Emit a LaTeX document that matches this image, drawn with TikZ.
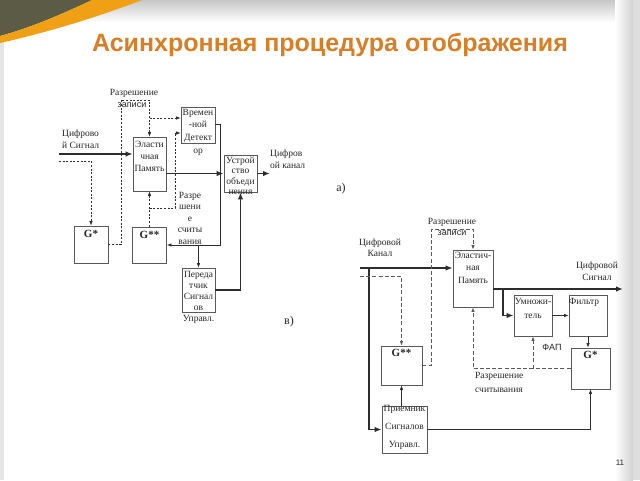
\documentclass[tikz,border=0pt]{standalone}
\usepackage{fontspec}
\setmainfont{Liberation Serif}
\newfontfamily\sansf{Liberation Sans}
\usetikzlibrary{arrows.meta}
\definecolor{ttl}{RGB}{216,126,38}
\definecolor{olv}{RGB}{92,92,70}
\definecolor{org}{RGB}{240,160,20}
\definecolor{ln}{RGB}{45,45,45}
\tikzset{
  box/.style={draw=black!65, line width=0.8pt, fill=white, inner sep=0pt, rectangle},
  lbl/.style={inner sep=0pt, align=center, text=black!85, font=\fontsize{9.5}{12}\selectfont},
  slbl/.style={inner sep=0pt, align=center, text=black!85, font=\sansf\fontsize{9}{11}\selectfont},
  gl/.style={inner sep=0pt, font=\bfseries\fontsize{11}{12}\selectfont, text=black!85},
  thk/.style={draw=ln, line width=1.5pt, -{Latex[length=7pt,width=5.5pt]}},
  tl/.style={draw=ln, line width=0.7pt, -{Latex[length=4.5pt,width=3.5pt]}},
  dl/.style={draw=ln, line width=0.7pt, dash pattern=on 2pt off 1.6pt, -{Latex[length=4.5pt,width=3.5pt]}},
  dr/.style={draw=black!65, line width=0.8pt, dash pattern=on 4pt off 2.2pt, -{Latex[length=4.5pt,width=3.5pt]}}
}
\begin{document}
\begin{tikzpicture}[x=1pt,y=-1pt]
\useasboundingbox (0,0) rectangle (640,480);
% background
\fill[white] (0,0) rectangle (640,480);
\shade[top color=black!22, bottom color=white] (0,0) rectangle (640,22);
\shade[left color=white, right color=black!18] (615,0) rectangle (633,480);
\fill[black!13] (633,0) rectangle (640,480);
\fill[black!10] (0,40) rectangle (4,480);
\fill[olv] (0,0) -- (92,0) .. controls (60,15) and (30,28) .. (0,36) -- cycle;
\fill[org] (92,0) -- (142,0) .. controls (95,18) and (45,33) .. (0,43) -- (0,36) .. controls (30,28) and (60,15) .. (92,0) -- cycle;
% title
\node[inner sep=0pt, font=\sansf\bfseries\fontsize{25}{28}\selectfont, text=ttl] (title) at (330,45) {Асинхронная процедура отображения};

% ===== left diagram (в) =====
\node[box, minimum width=33, minimum height=54] (em1) at (149.5,164) {};
\node[box, minimum width=34, minimum height=36] (td) at (198,125) {};
\node[box, minimum width=33, minimum height=37] (ust) at (240.5,173.5) {};
\node[box, minimum width=34, minimum height=37] (gs1) at (91,244.5) {};
\node[box, minimum width=34, minimum height=36] (gss1) at (149.5,245) {};
\node[box, minimum width=33, minimum height=44] (per) at (198.5,290) {};

\node[lbl, anchor=north, font=\fontsize{9.5}{12}\selectfont] (em1t) at ([yshift=-4pt]em1.north) {Эласти\\чная\\Память};
\node[lbl, anchor=north, font=\fontsize{9.5}{12.8}\selectfont] (tdt) at ([yshift=-2pt]td.north) {Времен\\-ной\\Детект\\ор};
\node[lbl, anchor=north, font=\fontsize{9.5}{10.5}\selectfont] (ustt) at ([yshift=-2pt]ust.north) {Устрой\\ство\\объеди\\нения};
\node[lbl, anchor=north, font=\fontsize{9.5}{11}\selectfont] (pert) at ([yshift=-3pt]per.north) {Переда\\тчик\\Сигнал\\ов\\Управл.};
\node[gl, anchor=north] (gs1t) at ([yshift=-4pt]gs1.north) {G*};
\node[gl, anchor=north] (gss1t) at ([yshift=-4pt]gss1.north) {G**};

\node[lbl] (t1) at (134,93) {Разрешение};
\node[slbl] (t2) at (132,105) {записи};
\node[lbl, align=left, anchor=north west] (t3) at (62,130) {Цифрово\\й Сигнал};
\node[lbl, anchor=north, font=\fontsize{9.5}{11.5}\selectfont] (t4) at (190,192) {Разре\\шени\\е\\считы\\вания};
\node[lbl, align=left, anchor=north west] (t5) at (270,150) {Цифров\\ой канал};
\node[lbl, font=\fontsize{12}{14}\selectfont] (t6) at (289,322) {в)};

\coordinate (in1) at (59,154);
\draw[thk] (in1) -- (in1 -| em1.west);
\coordinate (d1) at (59,161);
\draw[dl] (d1) -| (gs1.north);
\coordinate (c1) at (121,100);
\draw[dl] (gs1.east) -| (c1) -| (em1.north);
\coordinate (c3) at (149.5,118);
\draw[dl] (c3) -- (c3 -| td.west);
\draw[dl] (gss1.north) -- (em1.south);
\coordinate (c4) at (149.5,208);
\coordinate (c5) at (175,133);
\draw[dl] (c4) -| (c5) -- (c5 -| td.west);
\coordinate (c6) at (220,124);
\draw[tl] (c6 -| td.east) -- (c6) |- (gss1.east);
\coordinate (c7) at (198.5,245);
\draw[tl] (c7) -- (per.north);
\draw[thk] (ust.west -| em1.east) -- (ust.west);
\coordinate (o1) at (270,173.5);
\draw[thk] (ust.east) -- (o1);
\draw[thk] (per.east) -| (ust.south);

% ===== right diagram (а) =====
\node[lbl, font=\fontsize{12}{14}\selectfont] (t7) at (341,189) {а)};
\node[box, minimum width=40, minimum height=57] (em2) at (473,278.5) {};
\node[box, minimum width=41, minimum height=39] (gss2) at (401.5,365.5) {};
\node[box, minimum width=45, minimum height=47] (pri) at (404.5,429.5) {};
\node[box, minimum width=38, minimum height=41] (um) at (533,315.5) {};
\node[box, minimum width=38, minimum height=41] (fil) at (588,315.5) {};
\node[box, minimum width=39, minimum height=41] (gs2) at (590.5,368.5) {};

\node[lbl, anchor=north, font=\fontsize{9.5}{12.5}\selectfont] (em2t) at ([yshift=-2pt]em2.north) {Эластич-\\ная\\Память};
\node[lbl, anchor=north, font=\fontsize{9.5}{18}\selectfont] (prit) at ([yshift=1pt]pri.north) {Приемник\\Сигналов\\Управл.};
\node[lbl, anchor=north, font=\fontsize{9.5}{14}\selectfont] (umt) at ([yshift=-3pt]um.north) {Умножи-\\тель};
\node[lbl, anchor=north west] (filt) at ([yshift=-3pt]fil.north west) {Фильтр};
\node[gl, anchor=north] (gss2t) at ([yshift=-3pt]gss2.north) {G**};
\node[gl, anchor=north] (gs2t) at ([yshift=-3pt]gs2.north) {G*};

\node[lbl] (t8) at (452,222) {Разрешение};
\node[slbl] (t9) at (452,233) {записи};
\node[lbl, font=\fontsize{9.5}{11}\selectfont] (t10) at (380,247.5) {Цифровой\\Канал};
\node[lbl, font=\fontsize{9.5}{12}\selectfont] (t11) at (597,271) {Цифровой\\Сигнал};
\node[slbl] (t12) at (552,347) {ФАП};
\node[lbl, align=left, anchor=north west, font=\fontsize{9.5}{14}\selectfont] (t13) at (475,372) {Разрешение\\считывания};
\node[slbl, font=\sansf\fontsize{8}{9}\selectfont] (t14) at (620,463) {11};

\coordinate (in2) at (360,268);
\draw[thk] (in2) -- (in2 -| em2.west);
\coordinate (c9) at (369,268);
\draw[thk] (c9) |- (pri.west);
\coordinate (d2) at (360,276);
\draw[dr] (d2) -| (gss2.north);
\coordinate (c10) at (431,229);
\draw[dr] (gss2.east) -| (c10) -| (em2.north);
\draw[tl] (pri.north -| gss2.south) -- (gss2.south);
\draw[tl] (pri.east) -| (gs2.south);
\coordinate (o2) at (623,289);
\draw[thk] (o2 -| em2.east) -- (o2);
\coordinate (c11) at (503,289);
\draw[thk] (c11) |- (um.west);
\draw[tl] (um.east) -- (fil.west);
\draw[tl] (fil.south) -- (fil.south |- gs2.north);
\draw[dr] (gs2.west) -| (em2.south);
\coordinate (c12) at (533,368.5);
\draw[dr] (c12) -- (um.south);
\end{tikzpicture}
\end{document}
